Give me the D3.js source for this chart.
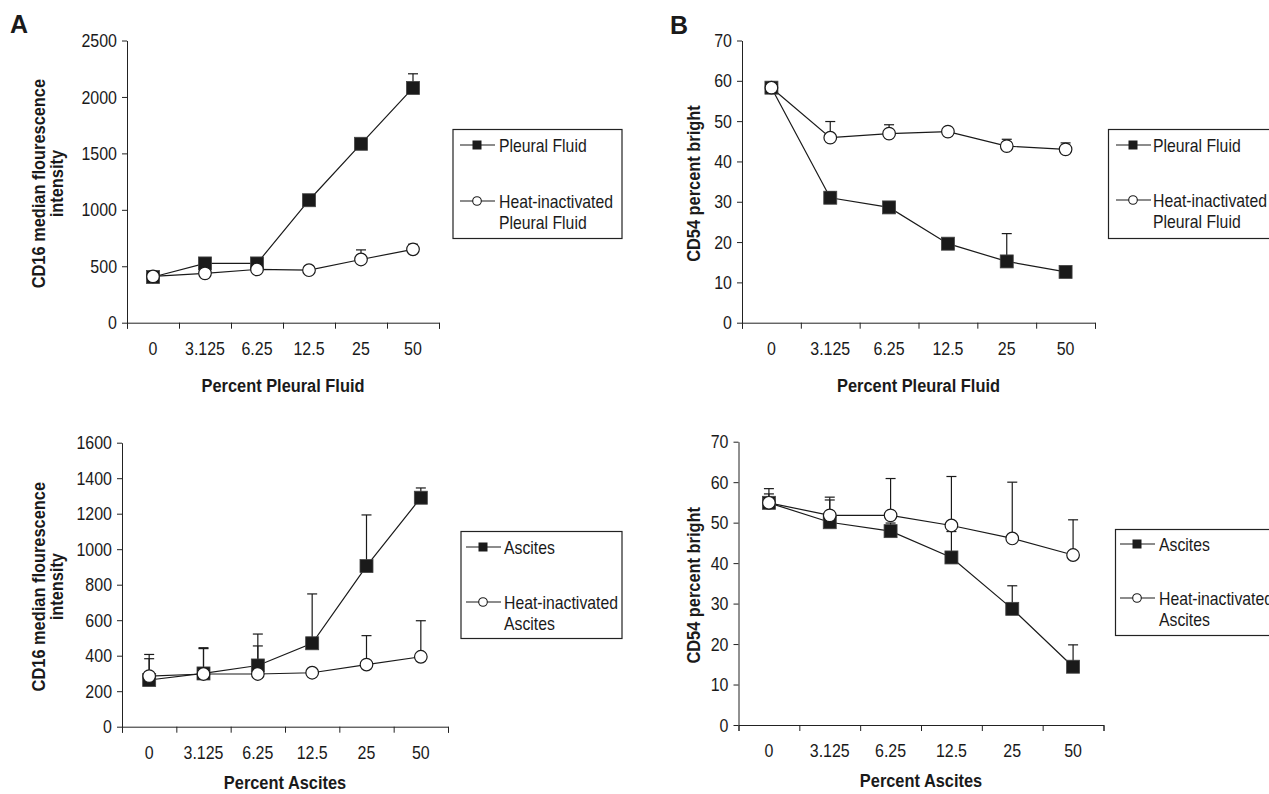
<!DOCTYPE html>
<html>
<head>
<meta charset="utf-8">
<script src="https://cdn.jsdelivr.net/npm/d3@7"></script>
<style>
  body { margin: 0; background: #fff; }
  text { font-family: "Liberation Sans", Arial, sans-serif; fill: #1a1a1a; }
  .bold { font-weight: bold; }
</style>
</head>
<body>
<div id="chart"></div>
<script>
// doses on the x axis (percent fluid)
var doses = ["0", "3.125", "6.25", "12.5", "25", "50"];

// A top: CD16 MFI, pleural fluid
var cd16Pleural = [405, 525, 525, 1085, 1585, 2080];
var cd16PleuralErr = [0, 0, 0, 0, 0, 125];
var cd16PleuralHeat = [410, 437, 472, 465, 560, 650];
var cd16PleuralHeatErr = [0, 0, 0, 0, 85, 45];

// B top: CD54 % bright, pleural fluid
var cd54Pleural = [58.3, 31.0, 28.6, 19.6, 15.2, 12.6];
var cd54PleuralErr = [0, 1.5, 0, 0, 6.9, 0];
var cd54PleuralHeat = [58.3, 45.9, 46.9, 47.4, 43.8, 43.0];
var cd54PleuralHeatErr = [0, 4.0, 2.2, 0, 1.7, 1.6];

// A bottom: CD16 MFI, ascites
var cd16Ascites = [263, 300, 345, 470, 905, 1290];
var cd16AscitesErr = [120, 145, 110, 278, 288, 55];
var cd16AscitesHeat = [285, 297, 297, 304, 350, 394];
var cd16AscitesHeatErr = [122, 143, 225, 0, 163, 203];

// B bottom: CD54 % bright, ascites
var cd54Ascites = [54.9, 50.1, 47.9, 41.4, 28.7, 14.4];
var cd54AscitesErr = [2.2, 5.5, 2.0, 6.4, 5.7, 5.4];
var cd54AscitesHeat = [54.9, 51.8, 51.8, 49.3, 46.1, 42.0];
var cd54AscitesHeatErr = [3.5, 4.5, 9.1, 12.1, 13.9, 8.7];

var svg = d3.select("#chart").append("svg")
    .attr("width", 1269)
    .attr("height", 794);

// panel layout
var panels = [
  { letter: "A", letterX: 10, letterY: 33,
    left: 127, top: 40.5, right: 439, bottom: 322.7,
    ymax: 2500, ystep: 500,
    ytitle: ["CD16 median flourescence", "intensity"], ytitleX: [38.5, 56.5],
    xtitle: "Percent Pleural Fluid", xtitleDy: 69,
    legend: { x: 453, y: 129.5, w: 169, h: 109, mx: 477, tx: 499, r1: 145, r2: 201 },
    names: [["Pleural Fluid"], ["Heat-inactivated", "Pleural Fluid"]],
    a: cd16Pleural, aErr: cd16PleuralErr, b: cd16PleuralHeat, bErr: cd16PleuralHeatErr },
  { letter: "B", letterX: 670, letterY: 34,
    left: 742, top: 40.5, right: 1095, bottom: 322.7,
    ymax: 70, ystep: 10,
    ytitle: ["CD54 percent bright"], ytitleX: [694],
    xtitle: "Percent Pleural Fluid", xtitleDy: 69,
    legend: { x: 1108.5, y: 129.5, w: 175, h: 109, mx: 1133, tx: 1153, r1: 145, r2: 200 },
    names: [["Pleural Fluid"], ["Heat-inactivated", "Pleural Fluid"]],
    a: cd54Pleural, aErr: cd54PleuralErr, b: cd54PleuralHeat, bErr: cd54PleuralHeatErr },
  { letter: "", left: 122, top: 442.7, right: 448, bottom: 726.7,
    ymax: 1600, ystep: 200,
    ytitle: ["CD16 median flourescence", "intensity"], ytitleX: [38.5, 56.5],
    xtitle: "Percent Ascites", xtitleDy: 62,
    legend: { x: 461, y: 531.5, w: 161, h: 107, mx: 483, tx: 504, r1: 547, r2: 602 },
    names: [["Ascites"], ["Heat-inactivated", "Ascites"]],
    a: cd16Ascites, aErr: cd16AscitesErr, b: cd16AscitesHeat, bErr: cd16AscitesHeatErr },
  { letter: "", left: 738.5, top: 441.7, right: 1103.5, bottom: 725,
    ymax: 70, ystep: 10,
    ytitle: ["CD54 percent bright"], ytitleX: [694],
    xtitle: "Percent Ascites", xtitleDy: 62,
    legend: { x: 1115.5, y: 529.5, w: 175, h: 106, mx: 1137, tx: 1159, r1: 544, r2: 598 },
    names: [["Ascites"], ["Heat-inactivated", "Ascites"]],
    a: cd54Ascites, aErr: cd54AscitesErr, b: cd54AscitesHeat, bErr: cd54AscitesHeatErr }
];

// the original type is a tall, narrow face: squeeze the glyphs horizontally
function squeeze(sel, f) {
  sel.each(function() {
    var l = this.getComputedTextLength();
    d3.select(this).attr("textLength", l * f).attr("lengthAdjust", "spacingAndGlyphs");
  });
}

panels.forEach(drawPanel);

function drawPanel(p) {
  var w = p.right - p.left, h = p.bottom - p.top;
  var g = svg.append("g").attr("transform", "translate(" + p.left + "," + p.top + ")");

  var x = d3.scaleBand().domain(doses).range([0, w]);
  var xEdge = d3.scaleLinear().domain([0, doses.length]).range([0, w]);
  var y = d3.scaleLinear().domain([0, p.ymax]).range([h, 0]);
  var cx = function(i) { return x(doses[i]) + x.bandwidth() / 2; };

  // y axis
  g.append("g")
    .call(d3.axisLeft(y).tickValues(d3.range(0, p.ymax + 1, p.ystep)).tickFormat(d3.format("d"))
      .tickSize(5).tickSizeOuter(0).tickPadding(5));

  // x axis: boundary ticks, labels at centres
  g.append("g").attr("transform", "translate(0," + h + ")")
    .call(d3.axisBottom(xEdge).tickValues(d3.range(0, doses.length + 1)).tickFormat("").tickSize(6).tickSizeOuter(6));
  var xLab = g.append("g").attr("transform", "translate(0," + h + ")")
    .call(d3.axisBottom(x).tickSize(0).tickPadding(19));
  xLab.select(".domain").remove();
  g.selectAll("g").attr("font-family", null).attr("font-size", null);
  g.selectAll(".domain, .tick line").attr("stroke", "#222");
  var ticks = g.selectAll(".tick text").style("font-size", "19px").attr("fill", "#1a1a1a");
  squeeze(ticks, 0.84);

  // titles
  var xt = g.append("text").attr("class", "bold")
    .attr("x", w / 2).attr("y", h + p.xtitleDy)
    .attr("text-anchor", "middle")
    .style("font-size", "18px")
    .text(p.xtitle);
  squeeze(xt, 0.91);
  p.ytitle.forEach(function(t, i) {
    var yt = svg.append("text").attr("class", "bold")
      .attr("transform", "translate(" + p.ytitleX[i] + "," + (p.top + h / 2 + 2) + ") rotate(-90)")
      .attr("text-anchor", "middle").attr("dy", "0.35em")
      .style("font-size", "18px")
      .text(t);
    squeeze(yt, 0.91);
  });
  if (p.letter) {
    svg.append("text").attr("class", "bold").attr("x", p.letterX).attr("y", p.letterY)
      .style("font-size", "25px").text(p.letter);
  }

  // error bars (upper only)
  [[p.a, p.aErr], [p.b, p.bErr]].forEach(function(s) {
    var eb = g.append("g").attr("stroke", "#1a1a1a").attr("stroke-width", 1.2);
    s[0].forEach(function(v, i) {
      if (!s[1][i]) return;
      eb.append("line").attr("x1", cx(i)).attr("x2", cx(i)).attr("y1", y(v)).attr("y2", y(v + s[1][i]));
      eb.append("line").attr("x1", cx(i) - 5).attr("x2", cx(i) + 5).attr("y1", y(v + s[1][i])).attr("y2", y(v + s[1][i]));
    });
  });

  var line = d3.line().x(function(d, i) { return cx(i); }).y(function(d) { return y(d); });
  g.append("path").datum(p.a).attr("d", line).attr("fill", "none").attr("stroke", "#1a1a1a").attr("stroke-width", 1.2);
  g.append("path").datum(p.b).attr("d", line).attr("fill", "none").attr("stroke", "#1a1a1a").attr("stroke-width", 1.2);

  g.selectAll(".sq").data(p.a).enter().append("rect")
    .attr("x", function(d, i) { return cx(i) - 6.5; })
    .attr("y", function(d) { return y(d) - 6.5; })
    .attr("width", 13).attr("height", 13)
    .attr("fill", "#1a1a1a").attr("stroke", "#444").attr("stroke-width", 0.8);
  g.selectAll(".ci").data(p.b).enter().append("circle")
    .attr("cx", function(d, i) { return cx(i); })
    .attr("cy", function(d) { return y(d); })
    .attr("r", 6.3)
    .attr("fill", "#fff").attr("stroke", "#1a1a1a").attr("stroke-width", 1.2);

  // legend
  var L = p.legend;
  svg.append("rect").attr("x", L.x).attr("y", L.y).attr("width", L.w).attr("height", L.h)
    .attr("fill", "#fff").attr("stroke", "#222").attr("stroke-width", 1.2);
  [L.r1, L.r2].forEach(function(ry, k) {
    svg.append("line").attr("x1", L.mx - 17).attr("x2", L.mx + 18).attr("y1", ry).attr("y2", ry)
      .attr("stroke", "#1a1a1a").attr("stroke-width", 1.2);
    if (k === 0) {
      svg.append("rect").attr("x", L.mx - 4.5).attr("y", ry - 4.5).attr("width", 9).attr("height", 9).attr("fill", "#1a1a1a");
    } else {
      svg.append("circle").attr("cx", L.mx).attr("cy", ry).attr("r", 4.3)
        .attr("fill", "#fff").attr("stroke", "#1a1a1a").attr("stroke-width", 1.1);
    }
    p.names[k].forEach(function(t, j) {
      var lt = svg.append("text").attr("x", L.tx).attr("y", ry + j * 21).attr("dy", "0.35em")
        .style("font-size", "19px").text(t);
      squeeze(lt, 0.83);
    });
  });
}
</script>
</body>
</html>
